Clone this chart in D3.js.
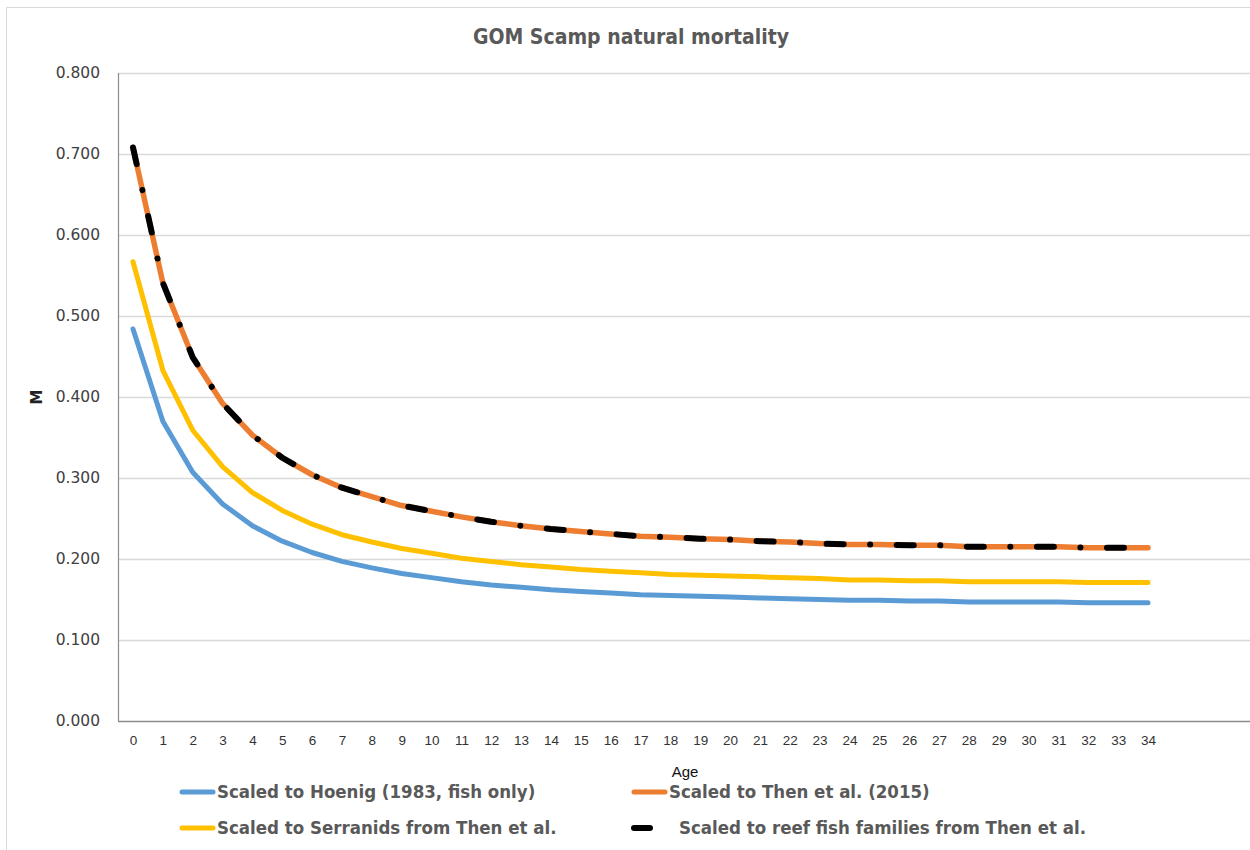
<!DOCTYPE html>
<html>
<head>
<meta charset="utf-8">
<script src="https://cdn.jsdelivr.net/npm/d3@7/dist/d3.min.js"></script>
<style>
  html, body { margin: 0; padding: 0; background: #fff; }
  svg { display: block; }
</style>
</head>
<body>
<svg id="chart" width="1250" height="850"></svg>
<script>
// ---------- data ----------
const ages = [0,1,2,3,4,5,6,7,8,9,10,11,12,13,14,15,16,17,18,19,20,21,22,23,24,25,26,27,28,29,30,31,32,33,34];
const hoenig = [0.484,0.370,0.307,0.268,0.241,0.222,0.208,0.197,0.189,0.182,0.177,0.172,0.168,0.165,0.162,0.160,0.158,0.156,0.155,0.154,0.153,0.152,0.151,0.150,0.149,0.149,0.148,0.148,0.147,0.147,0.147,0.147,0.146,0.146,0.146];
const then2015 = [0.708,0.541,0.449,0.392,0.353,0.325,0.304,0.288,0.277,0.266,0.259,0.252,0.246,0.241,0.237,0.234,0.231,0.228,0.227,0.225,0.224,0.222,0.221,0.219,0.218,0.218,0.217,0.217,0.215,0.215,0.215,0.215,0.214,0.214,0.214];
const serranids = [0.567,0.433,0.359,0.314,0.282,0.260,0.243,0.230,0.221,0.213,0.207,0.201,0.197,0.193,0.190,0.187,0.185,0.183,0.181,0.180,0.179,0.178,0.177,0.176,0.174,0.174,0.173,0.173,0.172,0.172,0.172,0.172,0.171,0.171,0.171];
const reefFish = [0.708,0.541,0.449,0.392,0.353,0.325,0.304,0.288,0.277,0.266,0.259,0.252,0.246,0.241,0.237,0.234,0.231,0.228,0.227,0.225,0.224,0.222,0.221,0.219,0.218,0.218,0.217,0.217,0.215,0.215,0.215,0.215,0.214,0.214,0.214];
const yTicks = [0,0.1,0.2,0.3,0.4,0.5,0.6,0.7,0.8];
const seriesNames = ["Scaled to Hoenig (1983, fish only)","Scaled to Then et al. (2015)","Scaled to Serranids from Then et al.","Scaled to reef fish families from Then et al."];
const titleText = "GOM Scamp natural mortality";
const xTitle = "Age";
const yTitle = "M";

// ---------- setup ----------
const svg = d3.select("#chart");
const narrow = "'Liberation Sans Narrow','DejaVu Sans Condensed','Liberation Sans',sans-serif";
const plotLeft = 118, plotRight = 1250, plotTop = 73, plotBottom = 721;

const x = d3.scalePoint().domain(ages).range([133, 1148]);
const y = d3.scaleLinear().domain([0, 0.8]).range([plotBottom, plotTop]);

// outer border
svg.append("path").attr("d", `M6.5,850 V7.5 H1250`).attr("fill","none").attr("stroke","#d9d9d9").attr("stroke-width",1);

// title
svg.append("text").attr("x", 631).attr("y", 44).attr("text-anchor","middle")
  .attr("font-family", narrow).attr("font-weight","bold").attr("font-size", 21)
  .attr("fill","#595959").text(titleText);

// gridlines
svg.append("g").selectAll("line").data(yTicks.filter(d => d > 0)).join("line")
  .attr("x1", plotLeft).attr("x2", plotRight)
  .attr("y1", d => Math.round(y(d)) + 0.5).attr("y2", d => Math.round(y(d)) + 0.5)
  .attr("stroke","#d9d9d9").attr("stroke-width",1.3);

// y axis
const yAxis = svg.append("g").attr("transform", `translate(${plotLeft},0)`)
  .call(d3.axisLeft(y).tickValues(yTicks).tickFormat(d3.format(".3f")).tickSize(0).tickPadding(18));
yAxis.select(".domain").remove();
yAxis.selectAll("text").attr("font-family","'DejaVu Sans',Verdana,sans-serif").attr("font-size",15.5).attr("fill","#404040");

// axis lines
svg.append("line").attr("x1", plotLeft + 0.5).attr("x2", plotLeft + 0.5).attr("y1", plotTop).attr("y2", plotBottom)
  .attr("stroke","#8c8c8c").attr("stroke-width",1.2);

// x axis
const xAxis = svg.append("g").attr("transform", `translate(0,${plotBottom})`)
  .call(d3.axisBottom(x).tickSize(0).tickPadding(14));
xAxis.select(".domain").remove();
xAxis.selectAll("text").attr("font-family","'Liberation Sans',Arial,sans-serif").attr("font-size",13.5).attr("fill","#333");
svg.append("line").attr("x1", plotLeft).attr("x2", plotRight).attr("y1", plotBottom + 0.5).attr("y2", plotBottom + 0.5)
  .attr("stroke","#8c8c8c").attr("stroke-width",1.3);

// axis titles
svg.append("text").attr("x", 685).attr("y", 777).attr("text-anchor","middle")
  .attr("font-family","'Liberation Sans',Arial,sans-serif").attr("font-size",15).attr("fill","#111").text(xTitle);
svg.append("text").attr("transform","translate(42,397) rotate(-90)").attr("text-anchor","middle")
  .attr("font-family","'DejaVu Sans',sans-serif").attr("font-weight","bold").attr("font-size",15).attr("fill","#222").text(yTitle);

// lines
const line = d3.line().x((d,i) => x(ages[i])).y(d => y(d));
const series = [
  {name: seriesNames[0], values: hoenig, color: "#5B9BD5", width: 5, dash: null},
  {name: seriesNames[2], values: serranids, color: "#FFC000", width: 5, dash: null},
  {name: seriesNames[1], values: then2015, color: "#ED7D31", width: 5.5, dash: null},
  {name: seriesNames[3], values: reefFish, color: "#000000", width: 6, dash: "17,26.5,0.1,26.5"}
];
svg.append("g").selectAll("path").data(series).join("path")
  .attr("d", d => line(d.values))
  .attr("fill","none").attr("stroke", d => d.color).attr("stroke-width", d => d.width)
  .attr("stroke-linecap","round").attr("stroke-linejoin","round")
  .attr("stroke-dasharray", d => d.dash);

// legend
const legendItems = [
  {name: seriesNames[0], color: "#5B9BD5", lx: 180, ly: 792, short: false},
  {name: seriesNames[1], color: "#ED7D31", lx: 632, ly: 792, short: false},
  {name: seriesNames[2], color: "#FFC000", lx: 180, ly: 828, short: false},
  {name: seriesNames[3], color: "#000000", lx: 632, ly: 828, short: true}
];
const lg = svg.append("g").selectAll("g").data(legendItems).join("g");
lg.append("line")
  .attr("x1", d => d.lx + 2).attr("x2", d => d.short ? d.lx + 18 : d.lx + 33)
  .attr("y1", d => d.ly).attr("y2", d => d.ly)
  .attr("stroke", d => d.color).attr("stroke-width", d => d.short ? 6 : 5).attr("stroke-linecap","round");
lg.append("text").attr("x", d => d.lx + (d.short ? 47 : 37)).attr("y", d => d.ly + 6)
  .attr("font-family", narrow).attr("font-weight","bold").attr("font-size",18.5).attr("fill","#595959")
  .text(d => d.name);
</script>
</body>
</html>
